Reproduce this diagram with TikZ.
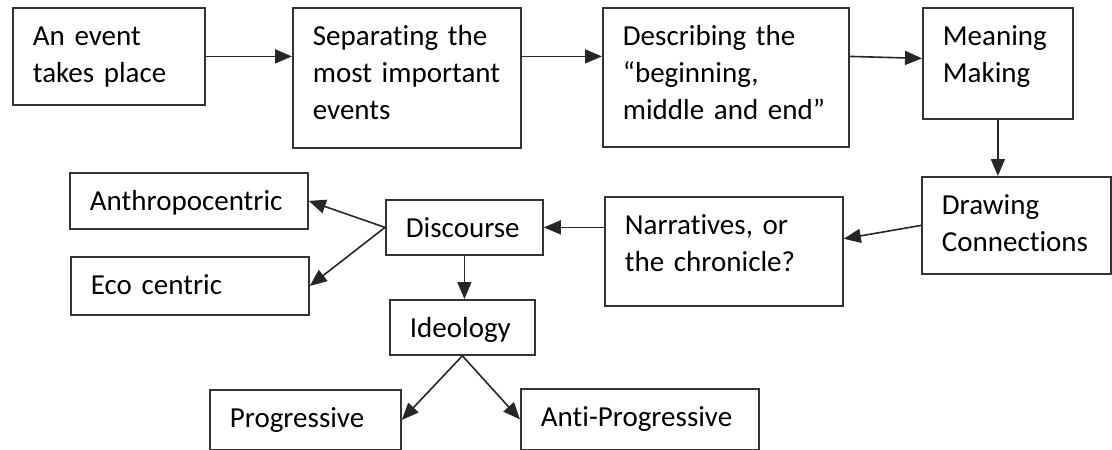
\documentclass[tikz,border=0pt]{standalone}
\usepackage{fontspec}
\setmainfont{Carlito}[Ligatures=NoCommon, WordSpace=0.85]
\usepackage{tikz}
\usetikzlibrary{arrows.meta}

\tikzset{
  stagebox/.style={draw=black!80, line width=1.8pt, anchor=north west,
    inner xsep=20pt, inner ysep=0pt, align=left, text height=38pt,
    font=\fontsize{29pt}{37pt}\selectfont},
  flow/.style={-{Triangle[length=17pt,width=14pt]}, line width=1.6pt, black!85},
}

\begin{document}
\begin{tikzpicture}[x=1pt,y=-1pt]
  \useasboundingbox (0,0) rectangle (1112,450);

  % Top row
  \node[stagebox, text width=152pt, text depth=59pt] (event) at (12,7) {An event\\takes place};
  \node[stagebox, text width=188pt, text depth=102pt] (separate) at (292,7) {Separating the\\most important\\events};
  \node[stagebox, text width=206pt, text depth=101pt] (describe) at (602,7) {Describing the\\“beginning,\\middle and end”};
  \node[stagebox, text width=110pt, text depth=73pt] (meaning) at (922,7) {Meaning\\Making};

  % Middle row
  \node[stagebox, text width=149pt, text depth=59pt] (drawing) at (921,176) {Drawing\\Connections};
  \node[stagebox, text width=198pt, text depth=71pt] (narrative) at (604,196) {Narratives, or\\the chronicle?};
  \node[stagebox, text width=117pt, text depth=17pt] (discourse) at (385,199) {Discourse};
  \node[stagebox, text width=198pt, text depth=18pt] (anthro) at (69,172) {Anthropocentric};
  \node[stagebox, text width=198pt, text depth=20pt] (eco) at (70,256) {Eco centric};

  % Bottom rows
  \node[stagebox, text width=105pt, text depth=17pt] (ideology) at (389,299) {Ideology};
  \node[stagebox, text width=151pt, text depth=22pt] (progressive) at (209,389) {Progressive};
  \node[stagebox, text width=198pt, text depth=23pt] (antiprog) at (520,388) {Anti-Progressive};

  % Arrows
  \draw[flow] (event.east) -- (event.east -| separate.west);
  \draw[flow] (separate.east |- event.east) -- (describe.west |- event.east);
  \draw[flow] (describe.east |- event.east) -- ([yshift=-2pt]meaning.west |- event.east);
  \draw[flow] (meaning.south) -- (meaning.south |- drawing.north);
  \draw[flow] (drawing.west) -- (narrative.6);
  \draw[flow] (narrative.west |- discourse.east) -- (discourse.east);
  \draw[flow] (discourse.west) -- (anthro.east);
  \draw[flow] (discourse.west) -- (eco.east);
  \draw[flow] (discourse.south) -- (discourse.south |- ideology.north);
  \draw[flow] (ideology.south) -- (progressive.east);
  \draw[flow] (ideology.south) -- (antiprog.west);
\end{tikzpicture}
\end{document}
